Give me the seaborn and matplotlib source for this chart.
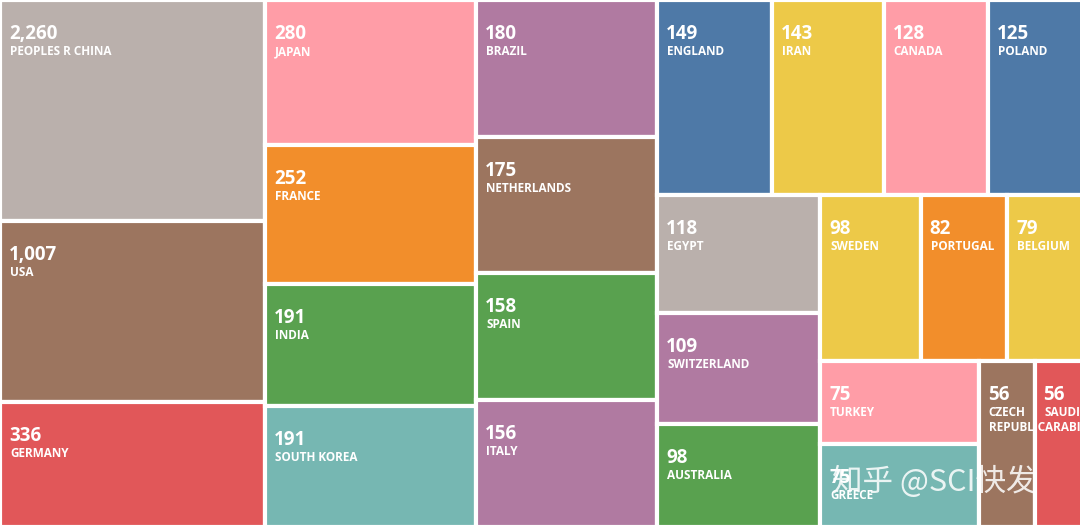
import numpy as np
import matplotlib
matplotlib.use("Agg")
import matplotlib.pyplot as plt
from matplotlib.patches import Rectangle
import seaborn as sns

countries = ["PEOPLES R CHINA", "USA", "GERMANY", "JAPAN", "FRANCE", "INDIA", "SOUTH KOREA",
             "BRAZIL", "NETHERLANDS", "SPAIN", "ITALY", "ENGLAND", "IRAN", "CANADA", "POLAND",
             "EGYPT", "SWITZERLAND", "AUSTRALIA", "SWEDEN", "PORTUGAL", "BELGIUM",
             "TURKEY", "GREECE", "CZECH\nREPUBLIC", "SAUDI\nARABIA"]
counts = [2260, 1007, 336, 280, 252, 191, 191, 180, 175, 158, 156, 149, 143, 128, 125,
          118, 109, 98, 98, 82, 79, 75, 75, 56, 56]
palette = ["#bab0ac", "#9c755f", "#e15759", "#ff9da7", "#f28e2b", "#59a14f", "#76b7b2",
           "#b07aa1", "#9c755f", "#59a14f", "#b07aa1", "#4e79a7", "#edc948", "#ff9da7", "#4e79a7",
           "#bab0ac", "#b07aa1", "#59a14f", "#edc948", "#f28e2b", "#edc948",
           "#ff9da7", "#76b7b2", "#9c755f", "#e15759"]

W, H = 1080, 527
weights = np.log(np.array(counts, float) / 28.0)
unit = 265 * H / weights[:3].sum()          # pixel area per weight unit
W_full = weights.sum() * unit / H            # chart continues past the right edge
areas = weights * unit
RATIO = 0.5 * (1 + np.sqrt(5))

def worst(row, side):
    s = sum(row)
    sq = side * side * RATIO
    return max(sq * max(row) / s**2, s**2 / (sq * min(row)))

def squarify(areas, x, y, w, h):
    rects = []
    areas = list(areas)
    while areas:
        side = min(w, h)
        row = [areas.pop(0)]
        while areas and worst(row + [areas[0]], side) <= worst(row, side):
            row.append(areas.pop(0))
        s = sum(row)
        if w >= h:
            cw = s / h; yy = y
            for r in row:
                rh = r / cw
                rects.append((x, yy, cw, rh)); yy += rh
            x += cw; w -= cw
        else:
            rh = s / w; xx = x
            for r in row:
                rw = r / rh
                rects.append((xx, y, rw, rh)); xx += rw
            y += rh; h -= rh
    return rects

rects = squarify(areas, 0, 0, W_full, H)

sns.set_theme(style="white")
plt.rcParams['font.family'] = ['Open Sans', 'DejaVu Sans']
fig = plt.figure(figsize=(10.8, 5.27), dpi=100)
ax = fig.add_axes([0, 0, 1, 1])
ax.set_xlim(0, W); ax.set_ylim(H, 0); ax.axis("off")
for (x, y, w, h), name, c, col in zip(rects, countries, counts, palette):
    ax.add_patch(Rectangle((x, y), w, h, facecolor=col, edgecolor="white", linewidth=3))
    ax.text(x + 9, y + 34, f"{c:,}", color="white", fontsize=13.5, fontweight="bold",
            va="center", ha="left", clip_on=True)
    ax.text(x + 10, y + 45, name, color="white", fontsize=8.5, fontweight="bold",
            va="top", ha="left", linespacing=1.15, clip_on=True)
ax.text(832, 482, "知乎 @SCI快发", color="white", alpha=0.85, fontsize=22,
        family=['Noto Sans CJK SC', 'DejaVu Sans'], va="center", ha="left")
fig.savefig("out.png", dpi=100)
